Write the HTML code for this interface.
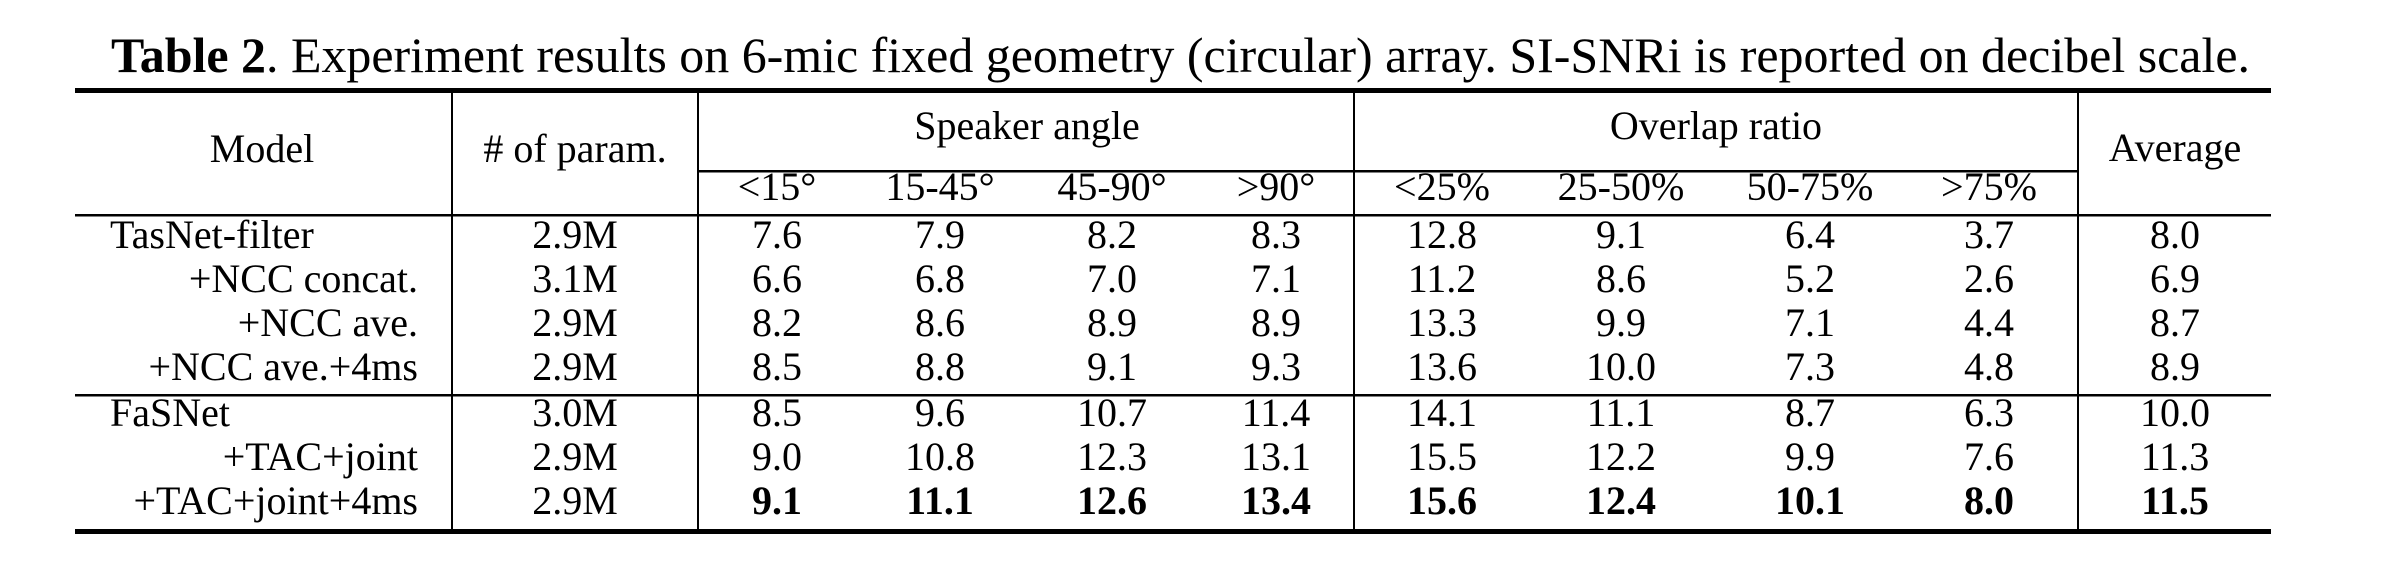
<!DOCTYPE html>
<html><head><meta charset="utf-8"><style>
html,body{margin:0;padding:0;background:#fff;}
svg{display:block;font-family:"Liberation Serif","Times New Roman",Times,"DejaVu Serif",serif;}
svg text{font-family:"Liberation Serif","Times New Roman",Times,"DejaVu Serif",serif;fill:#000;}
</style></head><body>
<svg id="t" width="2385" height="574" viewBox="0 0 2385 574" font-family="Liberation Serif, Times New Roman, serif">
<text x="111" y="72" font-size="50" textLength="2139" lengthAdjust="spacingAndGlyphs" font-family="Liberation Serif, serif"><tspan font-weight="bold">Table 2</tspan>. Experiment results on 6-mic fixed geometry (circular) array. SI-SNRi is reported on decibel scale.</text>
<rect x="75" y="88" width="2196" height="5"/>
<rect x="698" y="170" width="1380" height="2.5"/>
<rect x="75" y="214" width="2196" height="2.5"/>
<rect x="75" y="394" width="2196" height="2.5"/>
<rect x="75" y="529" width="2196" height="5"/>
<g>
<rect x="451" y="93" width="2" height="436"/>
<rect x="697" y="93" width="2" height="436"/>
<rect x="1353" y="93" width="2" height="436"/>
<rect x="2077" y="93" width="2" height="436"/>
</g>
<g font-size="40" text-anchor="middle" font-family="Liberation Serif, serif">
<text x="262" y="162">Model</text>
<text x="575" y="162"># of param.</text>
<text x="1027" y="139">Speaker angle</text>
<text x="1716" y="139">Overlap ratio</text>
<text x="2175" y="161">Average</text>
</g>
<g id="body" font-size="40" font-family="Liberation Serif, serif"></g>
</svg>
<script>
const subHeaders=["<15°","15-45°","45-90°",">90°","<25%","25-50%","50-75%",">75%"];
const models=["TasNet-filter","+NCC concat.","+NCC ave.","+NCC ave.+4ms","FaSNet","+TAC+joint","+TAC+joint+4ms"];
const params=["2.9M","3.1M","2.9M","2.9M","3.0M","2.9M","2.9M"];
const r1=["7.6","7.9","8.2","8.3","12.8","9.1","6.4","3.7","8.0"];
const r2=["6.6","6.8","7.0","7.1","11.2","8.6","5.2","2.6","6.9"];
const r3=["8.2","8.6","8.9","8.9","13.3","9.9","7.1","4.4","8.7"];
const r4=["8.5","8.8","9.1","9.3","13.6","10.0","7.3","4.8","8.9"];
const r5=["8.5","9.6","10.7","11.4","14.1","11.1","8.7","6.3","10.0"];
const r6=["9.0","10.8","12.3","13.1","15.5","12.2","9.9","7.6","11.3"];
const r7=["9.1","11.1","12.6","13.4","15.6","12.4","10.1","8.0","11.5"];
const rows=[r1,r2,r3,r4,r5,r6,r7];
const colX=[777,940,1112,1276,1442,1621,1810,1989,2175];
const rowY=[248,292,336,380,426,470,514];
const g=document.getElementById('body');
const NS="http://www.w3.org/2000/svg";
function mk(x,y,s,anchor,bold){const t=document.createElementNS(NS,'text');t.setAttribute('x',x);t.setAttribute('y',y);t.setAttribute('text-anchor',anchor);if(bold)t.setAttribute('font-weight','bold');t.textContent=s;g.appendChild(t);return t;}
subHeaders.forEach((s,i)=>{const t=mk(colX[i],200,s,'middle',false);

});
models.forEach((m,i)=>{const left=(i===0||i===4);const t=mk(left?110:418,rowY[i],m,left?'start':'end',false);


const p=mk(575,rowY[i],params[i],'middle',false);


rows[i].forEach((v,j)=>{const c=mk(colX[j],rowY[i],v,'middle',i===6);

});});
</script>
</body></html>
